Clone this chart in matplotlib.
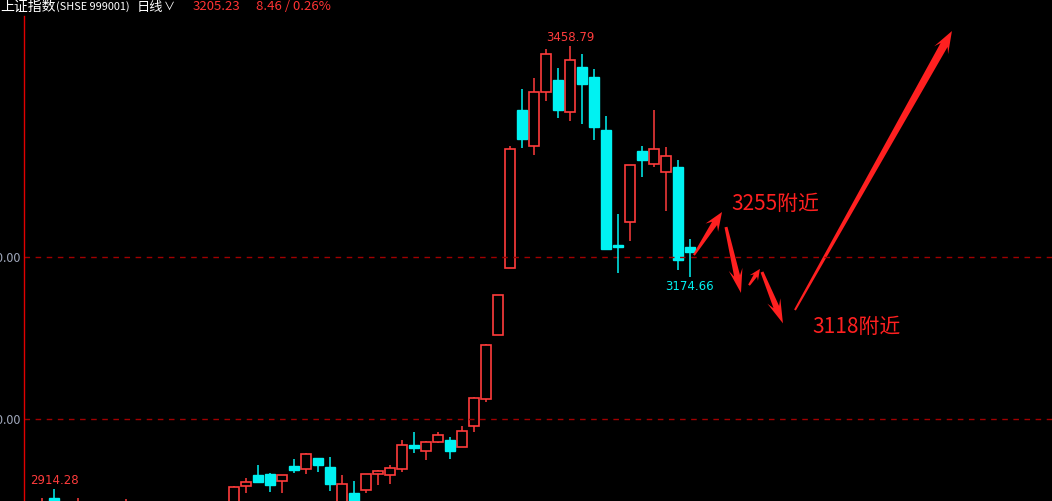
import numpy as np
import matplotlib.pyplot as plt
from matplotlib.patches import Polygon

plt.rcParams['font.family'] = ['Noto Sans CJK SC', 'DejaVu Sans']

# daily bars of 上证指数, oldest first (the early ones sit mostly below the window)
opens = [2880, 2903, 2889, 2884, 2896, 2880, 2872, 2884, 2893, 2874,
         2866, 2870, 2860, 2868, 2880, 2876, 2890, 2918, 2931.5, 2932.7,
         2924.1, 2942.6, 2938.9, 2952.4, 2941.3, 2895, 2909.4, 2913, 2932.7, 2931.5,
         2938.9, 2968.4, 2961, 2972.1, 2974.5, 2965.9, 2991.8, 3025, 3103.7, 3186.1,
         3380.4, 3336.2, 3402.6, 3417.3, 3378, 3433.3, 3421, 3355.8, 3214.4, 3242.7,
         3330, 3314, 3304.2, 3310.3, 3212]
highs = [2903, 2914.28, 2896, 2903, 2898, 2890, 2888, 2902, 2897, 2886,
         2879, 2882, 2872, 2886, 2892, 2895, 2918, 2927.8, 2943.8, 2934,
         2931.5, 2951.2, 2958.6, 2952.4, 2953.6, 2931.5, 2924.1, 2932.7, 2937.6, 2943.8,
         2974.5, 2984.4, 2973.3, 2984.4, 2978.2, 2991.8, 3027.4, 3092.6, 3152.9, 3336.2,
         3406.3, 3419.8, 3455.5, 3432.1, 3458.79, 3449.3, 3430.9, 3373.1, 3252.5, 3312.8,
         3336.2, 3380.4, 3334.9, 3318.9, 3221.8]
lows = [2874, 2884, 2878, 2879, 2876, 2868, 2866, 2878, 2870, 2860,
        2852, 2856, 2848, 2862, 2870, 2872, 2885, 2909.4, 2922.9, 2910.6,
        2909.4, 2934, 2932.7, 2935.2, 2911.8, 2888, 2884, 2909.4, 2919.2, 2920.4,
        2935.2, 2958.6, 2950, 2970.8, 2951.2, 2965.9, 2984.4, 3021.3, 3103.7, 3186.1,
        3333.7, 3325.1, 3391.5, 3370.7, 3367, 3363.2, 3343.5, 3209.5, 3179.9, 3219.3,
        3298, 3310.3, 3256.2, 3183.6, 3174.66]
closes = [2897, 2890, 2885, 2898, 2880, 2872, 2885, 2895, 2874, 2866,
          2870, 2860, 2868, 2880, 2876, 2889, 2916.7, 2922.9, 2922.9, 2919.2,
          2931.5, 2937.6, 2957.3, 2943.8, 2920.4, 2920.4, 2890, 2932.7, 2936.4, 2940,
          2968.4, 2964.7, 2972.1, 2980.7, 2961, 2985.6, 3026.2, 3091.4, 3152.9, 3332.5,
          3344.8, 3402.6, 3449.3, 3380.4, 3442, 3412.4, 3359.5, 3209.5, 3211.9, 3312.8,
          3318.9, 3332.5, 3323.8, 3195.9, 3205.23]

grid_levels = [3000, 3200]
grid_labels = ['3000.00', '3200.00']

# forecast path drawn by hand: (day, price) start -> end
path_arrows = [((54.33, 3202), (56.67, 3255)),
               ((57.0, 3236.5), (58.25, 3155.4)),
               ((58.92, 3165), (59.83, 3185)),
               ((60.0, 3181.2), (61.75, 3118)),
               ((62.75, 3134.4), (75.83, 3477.6))]

RED = '#ff3c3c'
CYAN = '#00f2f2'
ARROW = '#ff2020'

opens, highs, lows, closes = map(np.array, (opens, highs, lows, closes))
days = np.arange(len(opens))
up = closes >= opens

fig = plt.figure(figsize=(10.52, 5.01), dpi=100, facecolor='black')
ax = fig.add_axes([24 / 1052, 0, 1028 / 1052, 485 / 501], facecolor='black')
ax.set_xlim(-1.5, 84.17)
ax.set_ylim(2899.5, 3496.1)

for s in ('top', 'right', 'bottom'):
    ax.spines[s].set_visible(False)
ax.spines['left'].set_color('#e00000')
ax.spines['left'].set_linewidth(1)
ax.set_xticks([])
ax.set_yticks(grid_levels)
ax.set_yticklabels(grid_labels)
ax.tick_params(axis='y', length=0, pad=2, labelcolor='#a0a8bc', labelsize=9)
for lv in grid_levels:
    ax.axhline(lv, color='#a00000', lw=1, dashes=(4, 4))

# wicks (not through the hollow red bodies)
top = np.maximum(opens, closes)
bot = np.minimum(opens, closes)
wick_col = np.where(up, RED, CYAN)
ax.vlines(days, top, highs, colors=wick_col, lw=1.1)
ax.vlines(days, lows, bot, colors=wick_col, lw=1.1)

# bodies
w = 0.82
h = np.maximum(top - bot, 1.2)
ax.bar(days[up], h[up], bottom=bot[up], width=w, facecolor='black',
       edgecolor=RED, linewidth=1.2)
ax.bar(days[~up], h[~up], bottom=bot[~up], width=w, facecolor=CYAN,
       edgecolor=CYAN, linewidth=1)

# high / low markers
i_hi = int(np.argmax(highs))
ax.annotate(f'{highs[i_hi]:.2f}', (days[i_hi], highs[i_hi]), xytext=(0, 2),
            textcoords='offset points', ha='center', va='bottom',
            color=RED, fontsize=8.5, family='DejaVu Sans')
i_lo = int(np.argmin(lows[40:])) + 40
ax.annotate(f'{lows[i_lo]:.2f}', (days[i_lo], lows[i_lo]), xytext=(0, -2),
            textcoords='offset points', ha='center', va='top',
            color=CYAN, fontsize=8.5, family='DejaVu Sans')
ax.annotate(f'{highs[1]:.2f}', (days[1], highs[1]), xytext=(0, 1.5),
            textcoords='offset points', ha='center', va='bottom',
            color=RED, fontsize=8.5, family='DejaVu Sans')


def draw_arrow(ax, p0, p1, w0, w1, hw, hl, color):
    t = ax.transData
    a = t.transform(p0)
    b = t.transform(p1)
    d = b - a
    u = d / np.hypot(*d)
    n = np.array([-u[1], u[0]])
    neck = b - u * hl * 0.8
    barb = b - u * hl * 1.1
    pts = [a + n * w0 / 2, neck + n * w1 / 2, barb + n * hw / 2, b,
           barb - n * hw / 2, neck - n * w1 / 2, a - n * w0 / 2]
    ax.add_patch(Polygon(t.inverted().transform(pts), closed=True,
                         facecolor=color, edgecolor='none', clip_on=False))


sizes = [(2, 6, 15, 17), (3, 6, 14, 22), (2, 4, 10, 10), (3, 6, 14, 22), (2, 8, 16, 20)]
for (p0, p1), sz in zip(path_arrows, sizes):
    draw_arrow(ax, p0, p1, *sz, ARROW)

ax.text(57.42, 3264.8, '3255附近', color=ARROW, fontsize=15, va='center', ha='left')
ax.text(64.17, 3113.5, '3118附近', color=ARROW, fontsize=15, va='center', ha='left')

# header strip
def hdr(x, s, color, size=10):
    fig.text(x / 1052, 1 - 7 / 501, s, color=color, fontsize=size,
             ha='left', va='center')

hdr(0, '上证指数', 'white')
hdr(56, '(SHSE 999001)', 'white', 7.8)
hdr(137, '日线', 'white', 9.5)
hdr(164, '∨', 'white', 8)
hdr(193, '3205.23', '#ff3333', 9.5)
hdr(256, '8.46 / 0.26%', '#ff3333', 9.5)

fig.savefig('out.png', dpi=100, facecolor='black')
